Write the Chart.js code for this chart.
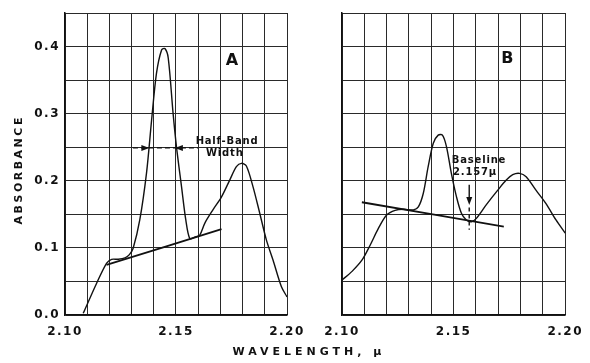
<!DOCTYPE html>
<html>
<head>
<meta charset="utf-8">
<script src="https://cdn.jsdelivr.net/npm/chart.js@4.4.1/dist/chart.umd.min.js"></script>
<style>
    html, body { margin: 0; padding: 0; background: #fff; }
    #wrap { position: relative; width: 590px; height: 363px; }
    #wrap canvas { position: absolute; left: 0; top: 0; }
</style>
</head>
<body>
<div id="wrap">
    <canvas id="chartA" width="590" height="363"></canvas>
    <canvas id="chartB" width="590" height="363"></canvas>
</div>
<script>
// panel A spectrum
const wavelengthA = [2.1082, 2.1142, 2.1187, 2.121, 2.124, 2.127, 2.129, 2.1307, 2.1337, 2.1367, 2.139, 2.1412,
    2.1435, 2.145, 2.1465, 2.1487, 2.1502, 2.1525, 2.1544, 2.1562, 2.1585, 2.1607, 2.163, 2.1667, 2.1705,
    2.1742, 2.1772, 2.1795, 2.1817, 2.1847, 2.1877, 2.1907, 2.1937, 2.1975, 2.20];
const absorbanceA = [0.0025, 0.047, 0.077, 0.083, 0.083, 0.085, 0.09, 0.0995, 0.142, 0.211, 0.29, 0.36,
    0.395, 0.397, 0.383, 0.30, 0.251, 0.191, 0.142, 0.114, 0.116, 0.119, 0.137, 0.157, 0.176,
    0.201, 0.221, 0.226, 0.222, 0.191, 0.152, 0.112, 0.082, 0.042, 0.027];
const baselineAx = [2.1187, 2.1705];
const baselineAy = [0.0746, 0.1278];
// half-band width marker: line ends, arrow tips, height
const halfBandX = [2.1306, 2.1599];
const halfBandTips = [2.138, 2.1495];
const halfBandY = 0.249;

// panel B spectrum
const wavelengthB = [2.100, 2.1045, 2.109, 2.1126, 2.1163, 2.120, 2.1238, 2.1275, 2.132, 2.1342, 2.1364, 2.1386,
    2.1409, 2.1431, 2.145, 2.1468, 2.149, 2.1513, 2.1535, 2.1557, 2.158, 2.1602, 2.1646, 2.1698,
    2.1736, 2.1765, 2.1795, 2.1825, 2.1869, 2.1914, 2.1958, 2.20];
const absorbanceB = [0.052, 0.065, 0.082, 0.104, 0.129, 0.149, 0.156, 0.1575, 0.1565, 0.161, 0.181, 0.221,
    0.256, 0.268, 0.268, 0.251, 0.211, 0.176, 0.1515, 0.1416, 0.139, 0.144, 0.164, 0.186,
    0.201, 0.209, 0.211, 0.206, 0.186, 0.166, 0.142, 0.122];
const baselineBx = [2.1089, 2.1725];
const baselineBy = [0.168, 0.1317];
// baseline point marker at 2.157 micron
const markerX = 2.157;
const markerArrowY = [0.194, 0.164];
const markerDashY = [0.160, 0.127];

// axes
const xMin = 2.10, xMax = 2.20, xStep = 0.01;
const yMin = 0, yMax = 0.45, yStep = 0.05;

const ink = '#111111';
const fontFamily = "'DejaVu Sans', sans-serif";

function pts(xs, ys) {
    return xs.map((x, i) => ({ x: x, y: ys[i] }));
}

function arrowHead(ctx, x, y, dx, dy, len, half) {
    ctx.beginPath();
    ctx.moveTo(x, y);
    ctx.lineTo(x - dx * len - dy * half, y - dy * len + dx * half);
    ctx.lineTo(x - dx * len + dy * half, y - dy * len - dx * half);
    ctx.closePath();
    ctx.fill();
}

function text(ctx, str, x, y, size, spacing) {
    ctx.font = 'bold ' + size + 'px ' + fontFamily;
    ctx.letterSpacing = spacing + 'px';
    ctx.fillText(str, x + spacing / 2, y);
}

function makeScales(showYLabels, yWidth) {
    return {
        x: {
            type: 'linear',
            min: xMin,
            max: xMax,
            afterFit: s => { s.height = 48; },
            afterBuildTicks: s => {
                const t = [];
                for (let i = 0; i <= 10; i++) t.push({ value: +(xMin + i * xStep).toFixed(2) });
                s.ticks = t;
            },
            grid: { color: '#2a2a2a', lineWidth: 1, drawTicks: false },
            border: { display: true, color: ink, width: 1.5 },
            ticks: {
                autoSkip: false,
                maxRotation: 0,
                padding: 10,
                color: ink,
                font: { family: fontFamily, size: 12, weight: 'bold' },
                callback: v => (Math.round(v * 100) % 5 === 0 ? v.toFixed(2) : '')
            }
        },
        y: {
            type: 'linear',
            min: yMin,
            max: yMax,
            afterFit: s => { s.width = yWidth; },
            afterBuildTicks: s => {
                const t = [];
                for (let i = 0; i <= 9; i++) t.push({ value: +(yMin + i * yStep).toFixed(2) });
                s.ticks = t;
            },
            grid: { color: '#2a2a2a', lineWidth: 1, drawTicks: false },
            border: { display: true, color: ink, width: 1.5 },
            ticks: {
                display: showYLabels,
                padding: 5,
                color: ink,
                font: { family: fontFamily, size: 12, weight: 'bold' },
                callback: v => (Math.round(v * 100) % 10 === 0 ? v.toFixed(1) : '')
            }
        }
    };
}

const spacingPlugin = {
    id: 'spacing',
    beforeDraw(chart) { chart.ctx.letterSpacing = '1.5px'; }
};

const panelAPlugin = {
    id: 'panelA',
    afterDraw(chart) {
        const ctx = chart.ctx;
        const xs = chart.scales.x, ys = chart.scales.y;
        ctx.save();
        ctx.fillStyle = ink;
        ctx.strokeStyle = ink;

        // half-band width arrows
        const hy = ys.getPixelForValue(halfBandY);
        ctx.lineWidth = 1.2;
        ctx.setLineDash([5, 3]);
        ctx.beginPath();
        ctx.moveTo(xs.getPixelForValue(halfBandX[0]), hy);
        ctx.lineTo(xs.getPixelForValue(halfBandX[1]), hy);
        ctx.stroke();
        ctx.setLineDash([]);
        arrowHead(ctx, xs.getPixelForValue(halfBandTips[0]), hy, 1, 0, 8, 3);
        arrowHead(ctx, xs.getPixelForValue(halfBandTips[1]), hy, -1, 0, 8, 3);

        ctx.textAlign = 'center';
        ctx.textBaseline = 'middle';
        text(ctx, 'Half-Band', xs.getPixelForValue(2.1728), ys.getPixelForValue(0.258), 10, 0.8);
        text(ctx, 'Width', xs.getPixelForValue(2.1718), ys.getPixelForValue(0.2415), 10, 0.8);
        text(ctx, 'A', xs.getPixelForValue(2.1752), ys.getPixelForValue(0.379), 16, 0);

        // axis titles
        text(ctx, 'WAVELENGTH, \u03bc', 307, 352, 11, 4);
        ctx.translate(19, 171);
        ctx.rotate(-Math.PI / 2);
        text(ctx, 'ABSORBANCE', 0, 0, 11, 2.5);
        ctx.restore();
    }
};

const panelBPlugin = {
    id: 'panelB',
    afterDraw(chart) {
        const ctx = chart.ctx;
        const xs = chart.scales.x, ys = chart.scales.y;
        ctx.save();
        ctx.fillStyle = ink;
        ctx.strokeStyle = ink;

        const mx = xs.getPixelForValue(markerX);
        ctx.lineWidth = 1.4;
        ctx.beginPath();
        ctx.moveTo(mx, ys.getPixelForValue(markerArrowY[0]));
        ctx.lineTo(mx, ys.getPixelForValue(markerArrowY[1]) - 6);
        ctx.stroke();
        arrowHead(ctx, mx, ys.getPixelForValue(markerArrowY[1]), 0, 1, 8, 3);
        ctx.setLineDash([4, 3]);
        ctx.beginPath();
        ctx.moveTo(mx, ys.getPixelForValue(markerDashY[0]));
        ctx.lineTo(mx, ys.getPixelForValue(markerDashY[1]));
        ctx.stroke();
        ctx.setLineDash([]);

        ctx.textAlign = 'center';
        ctx.textBaseline = 'middle';
        text(ctx, 'Baseline', xs.getPixelForValue(2.1612), ys.getPixelForValue(0.2299), 10, 0.8);
        text(ctx, '2.157\u03bc', xs.getPixelForValue(2.1594), ys.getPixelForValue(0.212), 10, 0.8);
        text(ctx, 'B', xs.getPixelForValue(2.1741), ys.getPixelForValue(0.381), 16, 0);
        ctx.restore();
    }
};

function lineSet(data, width) {
    return {
        data: data,
        showLine: true,
        borderColor: ink,
        borderWidth: width,
        pointRadius: 0,
        tension: 0.3,
        fill: false
    };
}

function baseOptions(padding, showYLabels, yWidth) {
    return {
        responsive: false,
        animation: false,
        layout: { padding: padding },
        plugins: { legend: { display: false }, tooltip: { enabled: false } },
        scales: makeScales(showYLabels, yWidth)
    };
}

new Chart(document.getElementById('chartA'), {
    type: 'scatter',
    data: {
        datasets: [
            lineSet(pts(wavelengthA, absorbanceA), 1.4),
            lineSet(pts(baselineAx, baselineAy), 1.8)
        ]
    },
    options: baseOptions({ left: 0, right: 303, top: 13, bottom: 0 }, true, 65),
    plugins: [spacingPlugin, panelAPlugin]
});

new Chart(document.getElementById('chartB'), {
    type: 'scatter',
    data: {
        datasets: [
            lineSet(pts(wavelengthB, absorbanceB), 1.4),
            lineSet(pts(baselineBx, baselineBy), 1.8)
        ]
    },
    options: baseOptions({ left: 300, right: 24, top: 13, bottom: 0 }, false, 42),
    plugins: [spacingPlugin, panelBPlugin]
});
</script>
</body>
</html>
